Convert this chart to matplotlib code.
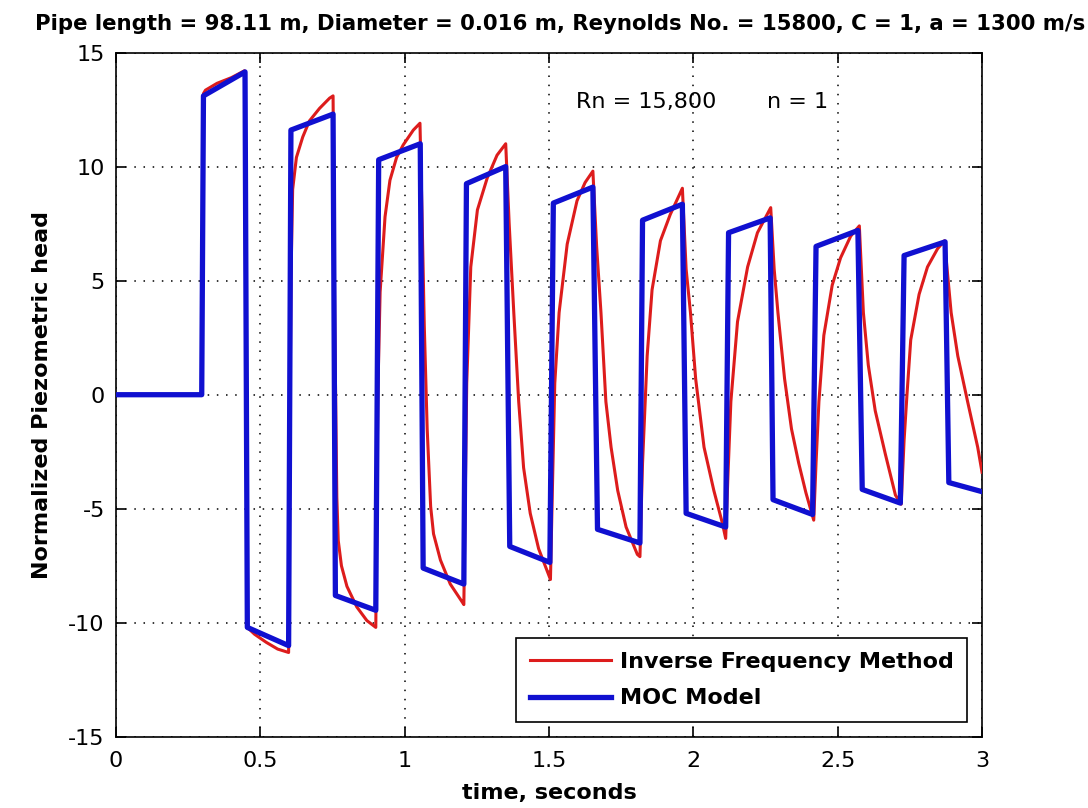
import matplotlib
matplotlib.use("Agg")
import matplotlib.pyplot as plt

plt.rcParams["font.family"] = ["DejaVu Sans"]
plt.rcParams["axes.unicode_minus"] = False

# MOC model (blue): corner points of the stepped wave
moc_t = [0.0, 0.297,
         0.303, 0.447, 0.455, 0.598,
         0.606, 0.752, 0.760, 0.900,
         0.910, 1.054, 1.064, 1.205,
         1.214, 1.350, 1.364, 1.503,
         1.515, 1.652, 1.668, 1.815,
         1.824, 1.962, 1.975, 2.112,
         2.122, 2.266, 2.276, 2.413,
         2.425, 2.570, 2.585, 2.717,
         2.730, 2.872, 2.885, 3.0]
moc_h = [0.0, 0.0,
         13.1, 14.15, -10.2, -11.0,
         11.6, 12.3, -8.8, -9.45,
         10.3, 11.0, -7.6, -8.3,
         9.25, 10.0, -6.65, -7.35,
         8.4, 9.1, -5.9, -6.5,
         7.65, 8.35, -5.2, -5.8,
         7.1, 7.75, -4.6, -5.25,
         6.5, 7.2, -4.15, -4.75,
         6.1, 6.7, -3.85, -4.25]

# Inverse frequency method (red)
ifm_t = [0.0, 0.297, 0.303, 0.31, 0.35, 0.40, 0.445,
         0.455, 0.48, 0.52, 0.56, 0.598,
         0.606, 0.612, 0.625, 0.647, 0.67, 0.705, 0.74, 0.752,
         0.758, 0.765, 0.77, 0.781, 0.80, 0.834, 0.869, 0.90,
         0.907, 0.915, 0.932, 0.949, 0.972, 0.995, 1.03, 1.053,
         1.06, 1.068, 1.078, 1.09, 1.10, 1.124, 1.158, 1.20, 1.205,
         1.215, 1.229, 1.252, 1.286, 1.32, 1.35,
         1.362, 1.378, 1.395, 1.412, 1.435, 1.464, 1.505,
         1.512, 1.52, 1.535, 1.563, 1.597, 1.625, 1.652,
         1.665, 1.68, 1.697, 1.715, 1.738, 1.767, 1.806, 1.815,
         1.824, 1.84, 1.857, 1.886, 1.92, 1.962,
         1.975, 1.99, 2.008, 2.037, 2.071, 2.10, 2.112,
         2.12, 2.13, 2.153, 2.188, 2.222, 2.268,
         2.28, 2.293, 2.316, 2.34, 2.365, 2.39, 2.417,
         2.425, 2.435, 2.452, 2.481, 2.51, 2.545, 2.575,
         2.589, 2.606, 2.63, 2.665, 2.70, 2.72,
         2.73, 2.74, 2.753, 2.782, 2.811, 2.846, 2.87,
         2.893, 2.916, 2.95, 2.985, 3.0]
ifm_h = [0.0, 0.0, 13.2, 13.35, 13.65, 13.9, 14.2,
         -10.2, -10.5, -10.85, -11.15, -11.3,
         5.0, 9.0, 10.4, 11.3, 12.0, 12.55, 13.0, 13.1,
         3.0, -4.5, -6.4, -7.5, -8.4, -9.3, -9.9, -10.2,
         0.0, 4.5, 7.8, 9.4, 10.4, 10.95, 11.6, 11.9,
         8.0, 3.0, -1.5, -4.9, -6.1, -7.25, -8.3, -9.1, -9.2,
         0.5, 5.6, 8.1, 9.5, 10.5, 11.0,
         7.5, 3.6, -0.3, -3.2, -5.2, -6.75, -8.1,
         -4.0, 0.5, 3.6, 6.6, 8.5, 9.3, 9.8,
         6.5, 3.6, -0.3, -2.3, -4.2, -5.8, -7.0, -7.1,
         -3.0, 1.7, 4.6, 6.75, 7.9, 9.05,
         5.5, 3.6, 0.7, -2.3, -4.2, -5.6, -6.3,
         -3.5, -0.3, 3.2, 5.6, 7.1, 8.2,
         5.5, 3.6, 0.7, -1.5, -3.0, -4.3, -5.5,
         -3.0, -0.3, 2.6, 4.8, 6.0, 6.95, 7.4,
         3.6, 1.3, -0.7, -2.6, -4.4, -4.8,
         -2.0, 0.0, 2.4, 4.4, 5.6, 6.4, 6.75,
         3.6, 1.7, -0.3, -2.3, -3.4]

fig = plt.figure(figsize=(10.88, 8.08), dpi=100)
ax = fig.add_axes([0.1066, 0.088, 0.796, 0.847])

ax.plot(ifm_t, ifm_h, color="#dd1c1c", lw=2.2, label="Inverse Frequency Method", zorder=3)
ax.plot(moc_t, moc_h, color="#1010d0", lw=3.8, label="MOC Model", zorder=4)

ax.set_xlim(0, 3)
ax.set_ylim(-15, 15)
ax.set_xticks([0, 0.5, 1, 1.5, 2, 2.5, 3])
ax.set_xticklabels(["0", "0.5", "1", "1.5", "2", "2.5", "3"])
ax.set_yticks([-15, -10, -5, 0, 5, 10, 15])
ax.tick_params(direction="in", top=True, right=True, length=7, width=1.2,
               labelsize=16)
ax.tick_params(axis="x", pad=10)
ax.tick_params(axis="y", pad=8)
ax.grid(True, color="black", linestyle=(0, (1, 5)), linewidth=1.1)
for s in ax.spines.values():
    s.set_linewidth(1.2)

ax.set_title("Pipe length = 98.11 m, Diameter = 0.016 m, Reynolds No. = 15800, C = 1, a = 1300 m/s",
             fontsize=15.3, fontweight="bold", pad=16, x=0.513)
ax.set_xlabel("time, seconds", fontsize=16, fontweight="bold", labelpad=9)
ax.set_ylabel("Normalized Piezometric head", fontsize=16, fontweight="bold", labelpad=11.5)

ax.text(1.595, 12.85, "Rn = 15,800", fontsize=16, va="center")
ax.text(2.255, 12.85, "n = 1", fontsize=16, va="center")

leg = ax.legend(loc="lower right", fancybox=False, edgecolor="black",
                prop={"weight": "bold", "size": 16}, handlelength=3.65,
                handletextpad=0.4, labelspacing=0.75, borderaxespad=0.68,
                borderpad=0.6)
leg.get_frame().set_linewidth(1.2)
leg.get_frame().set_alpha(1)

fig.savefig("out.png", dpi=100)
